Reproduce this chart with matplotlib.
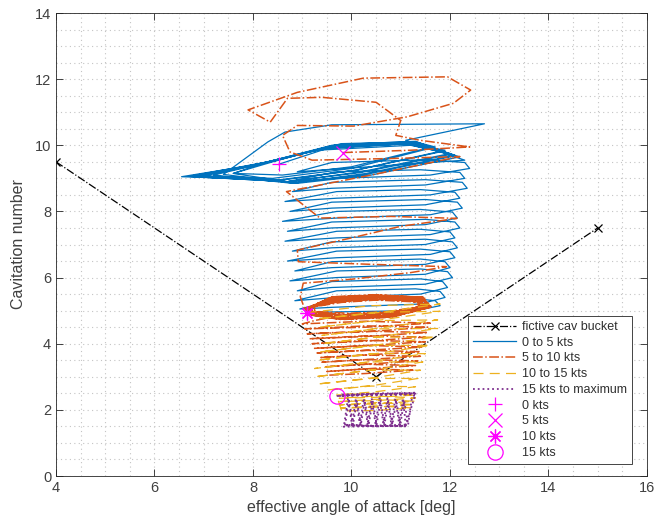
import matplotlib
matplotlib.use("Agg")
import matplotlib.pyplot as plt
from matplotlib.ticker import MultipleLocator

plt.rcParams['font.family'] = ['Liberation Sans', 'DejaVu Sans']

# fictive cavitation bucket (alpha, sigma)
cav_x = [4.0, 10.5, 15.0]
cav_y = [9.5, 3.0, 7.5]

# 0 to 5 kts: dense bundle near the start
blue_bundle_x = [8.53, 9.6, 11.2, 11.5, 10.0, 8.6, 7.6, 8.4, 9.5, 11.3, 11.7, 10.0, 8.4, 6.9,
                 8.2, 9.4, 11.2, 11.9, 10.1, 8.5, 6.55, 8.0, 9.3, 11.2, 12.0, 10.2, 8.7, 6.8,
                 8.3, 9.6, 11.3, 12.1, 10.3, 8.8, 7.2, 8.5, 9.8, 11.2, 12.2, 10.4, 8.9, 7.6,
                 8.2, 9.5, 11.1, 11.8, 10.1, 8.6, 7.0, 8.1, 9.4, 11.2, 12.0, 10.2, 8.7, 6.7,
                 8.3, 9.7, 11.3, 12.1, 10.3, 8.8, 7.4,
                 8.3, 8.65, 9.6, 12.7, 11.1, 12.3]
blue_bundle_y = [9.43, 9.95, 10.05, 9.9, 9.35, 9.1, 9.15, 9.5, 9.95, 10.1, 9.95, 9.3, 9.0, 9.08,
                 9.45, 9.9, 10.05, 9.85, 9.25, 8.95, 9.05, 9.4, 9.85, 10.0, 9.75, 9.2, 8.9, 9.05,
                 9.5, 10.0, 10.1, 9.7, 9.15, 8.85, 9.1, 9.55, 10.05, 10.1, 9.65, 9.1, 8.85, 9.15,
                 9.45, 9.92, 10.05, 9.8, 9.25, 8.95, 9.07, 9.42, 9.9, 10.08, 9.72, 9.18, 8.9, 9.06,
                 9.5, 10.02, 10.12, 9.68, 9.12, 8.86, 9.12,
                 10.1, 10.4, 10.62, 10.65, 10.15, 9.55]

# 0 to 5 kts: spiral body going down to 10 kts
blue_body_x = [8.9, 9.6, 11.5, 12.3, 12.4, 11.6, 9.7,
               8.7, 9.7, 11.4, 12.2, 12.3, 11.5, 9.6,
               8.8, 9.6, 11.5, 12.25, 12.35, 11.6, 9.7,
               8.65, 9.7, 11.4, 12.1, 12.2, 11.5, 9.6,
               8.75, 9.6, 11.5, 12.15, 12.25, 11.6, 9.7,
               8.6, 9.7, 11.4, 12.05, 12.15, 11.5, 9.6,
               8.7, 9.6, 11.5, 12.1, 12.2, 11.6, 9.7,
               8.65, 9.7, 11.4, 12.0, 12.1, 11.5, 9.6,
               8.8, 9.6, 11.5, 12.05, 12.15, 11.6, 9.7,
               8.7, 9.7, 11.4, 12.0, 12.1, 11.5, 9.6,
               8.85, 9.6, 11.4, 11.9, 12.0, 11.5, 9.7,
               8.75, 9.7, 11.4, 11.95, 12.05, 11.5, 9.6,
               8.9, 9.6, 11.4, 11.85, 11.95, 11.4, 9.7,
               8.85, 9.7, 11.3, 11.8, 11.9, 11.4, 9.6,
               8.95, 9.6, 11.3, 11.7, 11.8, 11.3, 9.6, 9.09]
blue_body_y = [9.2, 9.48, 9.56, 9.48, 9.3, 9.1, 9.0,
               8.9, 9.2, 9.26, 9.18, 9.0, 8.8, 8.7,
               8.6, 8.88, 8.96, 8.88, 8.7, 8.5, 8.4,
               8.3, 8.6, 8.66, 8.58, 8.4, 8.2, 8.1,
               8.0, 8.28, 8.36, 8.28, 8.1, 7.9, 7.8,
               7.7, 8.0, 8.06, 7.98, 7.8, 7.6, 7.5,
               7.4, 7.68, 7.76, 7.68, 7.5, 7.3, 7.2,
               7.1, 7.4, 7.46, 7.38, 7.2, 7.0, 6.9,
               6.8, 7.08, 7.16, 7.08, 6.9, 6.7, 6.6,
               6.5, 6.8, 6.86, 6.78, 6.6, 6.4, 6.3,
               6.2, 6.48, 6.56, 6.48, 6.3, 6.1, 6.0,
               5.9, 6.2, 6.26, 6.18, 6.0, 5.8, 5.7,
               5.6, 5.88, 5.96, 5.88, 5.7, 5.5, 5.4,
               5.3, 5.6, 5.66, 5.58, 5.4, 5.2, 5.1,
               5.05, 5.3, 5.36, 5.3, 5.15, 5.0, 4.96, 4.94]

# 5 to 10 kts: upper loops and sparse descent
orange_upper_x = [9.83, 11.2, 12.4, 11.4, 10.9, 11.0, 10.5, 9.4, 8.7, 8.35, 7.9, 8.9, 10.24,
                  11.95, 12.42, 12.07, 11.13, 10.04, 8.9, 8.6, 8.75, 9.2, 10.8, 12.2, 10.4,
                  8.68, 9.36, 10.8, 12.14, 11.0, 10.0, 8.9, 8.92, 10.4, 11.93, 11.2, 10.0,
                  9.02, 8.96]
orange_upper_y = [9.78, 9.85, 9.95, 10.15, 10.3, 10.75, 11.3, 11.45, 11.42, 10.7, 11.07, 11.6, 12.03,
                  12.07, 11.67, 11.27, 10.86, 10.58, 10.6, 10.3, 9.8, 9.55, 9.6, 9.66, 9.1,
                  8.6, 7.8, 7.85, 7.79, 7.55, 7.2, 6.83, 6.48, 6.4, 6.33, 6.15, 5.95,
                  5.83, 5.42]

# 5 to 10 kts: tight ring around sigma = 5
orange_ring_x = [9.05, 9.6, 10.5, 11.45, 11.62, 10.8, 9.8, 9.1,
                 9.1, 9.65, 10.5, 11.4, 11.55, 10.8, 9.8, 9.15,
                 9.15, 9.7, 10.55, 11.35, 11.5, 10.8, 9.85, 9.2,
                 9.2, 9.75, 10.5, 11.3, 11.45, 10.8, 9.9, 9.25,
                 9.25, 9.8, 10.5, 11.25, 11.4, 10.75, 9.95, 9.2,
                 9.1, 9.62, 10.48, 11.42, 11.58, 10.85, 9.78, 9.12,
                 9.12, 9.68, 10.52, 11.38, 11.52, 10.78, 9.82, 9.18,
                 9.18, 9.72, 10.5, 11.32, 11.48, 10.8, 9.88, 9.22,
                 9.08, 9.6, 10.5, 11.46, 11.6, 10.82, 9.8, 9.1,
                 9.06, 9.62, 10.5, 11.44, 11.6, 10.82, 9.8, 9.1,
                 9.14, 9.66, 10.54, 11.37, 11.53, 10.8, 9.84, 9.16,
                 9.1, 9.64, 10.5, 11.43, 11.57, 10.81, 9.8, 9.12,
                 9.16, 9.7, 10.52, 11.34, 11.5, 10.79, 9.86, 9.2,
                 9.07, 9.6, 10.49, 11.45, 11.6, 10.82, 9.79, 9.1,
                 9.13, 9.68, 10.51, 11.39, 11.54, 10.8, 9.82, 9.15,
                 9.2, 9.76, 10.52, 11.28, 11.42, 10.78, 9.92, 9.25]
orange_ring_y = [5.05, 5.4, 5.47, 5.4, 5.12, 4.82, 4.74, 4.9,
                 5.08, 5.36, 5.43, 5.36, 5.1, 4.86, 4.78, 4.92,
                 5.1, 5.32, 5.4, 5.33, 5.1, 4.9, 4.82, 4.95,
                 5.1, 5.28, 5.36, 5.3, 5.12, 4.94, 4.87, 4.97,
                 5.12, 5.25, 5.32, 5.27, 5.13, 4.97, 4.92, 4.98,
                 5.06, 5.38, 5.45, 5.38, 5.1, 4.84, 4.76, 4.9,
                 5.08, 5.34, 5.42, 5.35, 5.08, 4.88, 4.8, 4.93,
                 5.1, 5.3, 5.38, 5.31, 5.1, 4.92, 4.85, 4.96,
                 5.04, 5.42, 5.48, 5.4, 5.1, 4.8, 4.73, 4.88,
                 5.06, 5.41, 5.46, 5.39, 5.11, 4.83, 4.75, 4.89,
                 5.09, 5.35, 5.41, 5.34, 5.09, 4.87, 4.8, 4.93,
                 5.07, 5.39, 5.46, 5.38, 5.11, 4.83, 4.76, 4.91,
                 5.1, 5.31, 5.38, 5.32, 5.1, 4.9, 4.83, 4.95,
                 5.05, 5.41, 5.47, 5.4, 5.12, 4.81, 4.74, 4.89,
                 5.08, 5.36, 5.43, 5.36, 5.1, 4.86, 4.79, 4.92,
                 5.12, 5.27, 5.34, 5.28, 5.12, 4.95, 4.9, 4.7]

# 5 to 10 kts: dense loops below the ring
orange_lower_x = [9.0, 10.3, 11.6, 10.3, 9.05, 10.3, 11.55, 10.3, 9.1, 10.3, 11.55, 10.3,
                  9.15, 10.3, 11.5, 10.3, 9.2, 10.3, 11.5, 10.3, 9.25, 10.3, 11.45, 10.3,
                  9.3, 10.3, 11.4, 10.3, 9.35, 10.3, 11.4, 10.3, 9.4, 10.3, 11.35, 10.3,
                  9.45, 10.3, 11.3, 10.3, 9.5, 10.3, 11.25, 10.3, 9.55]
orange_lower_y = [4.6, 4.68, 4.62, 4.5, 4.45, 4.54, 4.5, 4.36, 4.3, 4.38, 4.34, 4.22,
                  4.15, 4.24, 4.2, 4.08, 4.0, 4.1, 4.06, 3.94, 3.86, 3.95, 3.9, 3.8,
                  3.72, 3.8, 3.76, 3.66, 3.58, 3.66, 3.62, 3.52, 3.44, 3.52, 3.48, 3.38,
                  3.3, 3.38, 3.34, 3.24, 3.16, 3.24, 3.2, 3.1, 3.05]

# 10 to 15 kts
yellow_x = [9.09, 10.4, 11.8, 10.6, 9.3, 10.5, 11.8, 10.6, 9.35, 10.5, 11.75, 10.6,
            9.4, 10.5, 11.75, 10.6, 9.4, 10.5, 11.7, 10.6, 9.35, 10.5, 11.6, 10.6,
            9.3, 10.4, 11.5, 10.5, 9.25, 10.4, 11.45, 10.5, 9.25, 10.4, 11.4, 10.5,
            9.3, 10.4, 11.35, 10.5, 9.5, 10.4, 11.3, 10.5,
            9.7, 10.5, 11.3, 10.5, 9.75, 10.5, 11.3, 10.5, 9.75, 10.5, 11.28, 10.5,
            9.75, 10.5, 11.25, 10.5, 9.78, 10.5, 11.22, 10.5, 9.8, 9.7]
yellow_y = [4.94, 5.15, 5.2, 4.95, 4.75, 4.95, 4.98, 4.72, 4.5, 4.7, 4.72, 4.48,
            4.25, 4.45, 4.46, 4.22, 4.0, 4.2, 4.2, 3.98, 3.75, 3.95, 3.95, 3.72,
            3.5, 3.7, 3.7, 3.48, 3.25, 3.45, 3.45, 3.22, 3.0, 3.2, 3.2, 2.98,
            2.78, 2.95, 2.95, 2.75, 2.6, 2.72, 2.7, 2.55,
            2.45, 2.5, 2.45, 2.38, 2.35, 2.42, 2.36, 2.28, 2.25, 2.32, 2.26, 2.18,
            2.15, 2.22, 2.16, 2.08, 2.05, 2.12, 2.06, 1.98, 1.97, 2.42]

# 15 kts to maximum
purple_x = [9.70, 10.5, 11.3, 11.22,
            11.15, 11.07, 10.99, 10.91, 10.83, 10.75, 10.67, 10.59, 10.51, 10.43, 10.35,
            10.27, 10.19, 10.11, 10.03, 9.95, 9.87, 10.5, 11.1,
            11.05, 10.97, 10.89, 10.81, 10.73, 10.65, 10.57, 10.49, 10.41, 10.33, 10.25,
            10.17, 10.09, 10.01, 9.93, 9.85, 10.4, 11.1,
            11.12, 9.86, 9.84, 11.1,
            11.3, 10.5, 9.75, 10.5, 11.3, 9.78, 11.28]
purple_y = [2.42, 2.47, 2.52, 2.3,
            1.55, 2.28, 1.55, 2.28, 1.55, 2.28, 1.55, 2.28, 1.55, 2.28, 1.55,
            2.28, 1.55, 2.28, 1.55, 2.28, 1.55, 1.5, 1.52,
            2.35, 1.55, 2.35, 1.55, 2.35, 1.55, 2.35, 1.55, 2.35, 1.55, 2.35,
            1.55, 2.35, 1.55, 2.35, 1.55, 1.52, 1.55,
            1.5, 1.53, 1.49, 1.52,
            2.48, 2.44, 2.42, 2.5, 2.5, 2.46, 2.47]

# speed markers
kts_labels = ['0 kts', '5 kts', '10 kts', '15 kts']
kts_x = [8.53, 9.83, 9.09, 9.70]
kts_y = [9.43, 9.78, 4.94, 2.42]
kts_markers = ['+', 'x', (8, 2, 0), 'o']

c_blue = '#0072BD'
c_orange = '#D95319'
c_yellow = '#EDB120'
c_purple = '#7E2F8E'
c_text = '#262626'

fig = plt.figure(figsize=(6.65, 5.2), dpi=100)
ax = fig.add_axes([0.0842, 0.0846, 0.8887, 0.8904])

lw = 0.9
ax.plot(cav_x, cav_y, '-.', color='black', marker='x', ms=6, mew=0.9, lw=lw,
        label='fictive cav bucket')

ax.plot(blue_bundle_x + blue_body_x, blue_bundle_y + blue_body_y, '-', color=c_blue, lw=lw,
        label='0 to 5 kts')
ax.plot(orange_upper_x + orange_ring_x + orange_lower_x,
        orange_upper_y + orange_ring_y + orange_lower_y,
        '-.', color=c_orange, lw=1.1, label='5 to 10 kts')
ax.plot(yellow_x, yellow_y, color=c_yellow, lw=lw, dashes=(8, 5), label='10 to 15 kts')
ax.plot(purple_x, purple_y, ':', color=c_purple, lw=1.3, label='15 kts to maximum')

for lab, x, y, m in zip(kts_labels, kts_x, kts_y, kts_markers):
    ax.plot(x, y, linestyle='none', marker=m, color='magenta', ms=10 if m != 'o' else 11,
            mew=0.9, mfc='none', label=lab)

ax.set_xlim(4, 16)
ax.set_ylim(0, 14)
ax.xaxis.set_major_locator(MultipleLocator(2))
ax.yaxis.set_major_locator(MultipleLocator(2))
ax.xaxis.set_minor_locator(MultipleLocator(0.5))
ax.yaxis.set_minor_locator(MultipleLocator(0.5))
ax.grid(True, which='both', linestyle=(0, (1, 3)), color='#c4c4c4', lw=0.8)
ax.set_axisbelow(True)
ax.tick_params(which='major', direction='in', top=True, right=True, length=5, width=0.6,
               colors=c_text, labelsize=10.5, labelcolor='#404040')
ax.tick_params(which='minor', length=0)
for s in ax.spines.values():
    s.set_color(c_text)
    s.set_linewidth(0.6)

ax.set_xlabel('effective angle of attack [deg]', fontsize=11.5, color='#404040', labelpad=4)
ax.set_ylabel('Cavitation number', fontsize=11.5, color='#404040', labelpad=6)

leg = ax.legend(loc='lower right', bbox_to_anchor=(0.975, 0.026), borderaxespad=0,
                fontsize=9, handlelength=3.4, handletextpad=0.5, labelspacing=0.3,
                borderpad=0.4, fancybox=False, framealpha=1, edgecolor=c_text)
leg.get_frame().set_linewidth(0.6)
for t in leg.get_texts():
    t.set_color('#303030')

fig.savefig('out.png', dpi=100)
